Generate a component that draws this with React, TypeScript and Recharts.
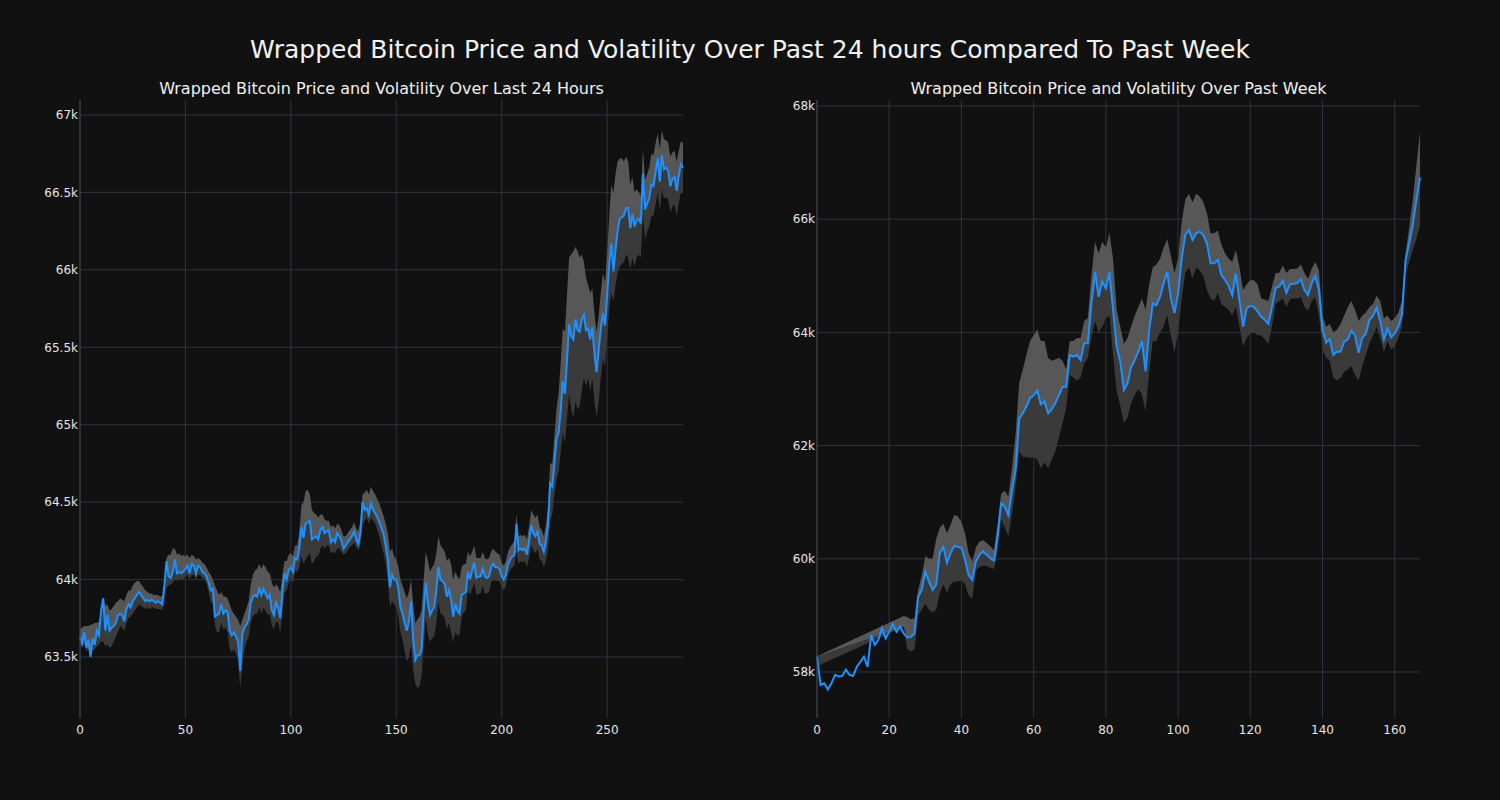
import { Area, CartesianGrid, ComposedChart, Line, XAxis, YAxis } from "recharts";

// prices in thousands of USD
const DAY_PRICE = [
  63.63, 63.59, 63.66, 63.56, 63.61, 63.50, 63.62, 63.58, 63.67, 63.64,
  63.80, 63.88, 63.67, 63.77, 63.67, 63.69, 63.70, 63.72, 63.77, 63.78,
  63.77, 63.73, 63.81, 63.84, 63.82, 63.86, 63.88, 63.90, 63.92, 63.90,
  63.88, 63.86, 63.87, 63.86, 63.87, 63.86, 63.85, 63.86, 63.85, 63.84,
  63.96, 64.12, 64.02, 64.01, 64.05, 64.13, 64.04, 64.05, 64.04, 64.05,
  64.07, 64.09, 64.04, 64.10, 64.09, 64.04, 64.09, 64.08, 64.05, 64.04,
  64.02, 63.98, 63.93, 63.94, 63.76, 63.77, 63.78, 63.84, 63.78, 63.80,
  63.79, 63.67, 63.64, 63.66, 63.63, 63.60, 63.41, 63.65, 63.69, 63.71,
  63.74, 63.85, 63.89, 63.90, 63.89, 63.94, 63.90, 63.94, 63.91, 63.88,
  63.90, 63.80, 63.77, 63.85, 63.82, 63.75, 63.92, 64.04, 64.00, 64.06,
  64.08, 64.05, 64.14, 64.13, 64.20, 64.34, 64.27, 64.36, 64.37, 64.38,
  64.26, 64.27, 64.28, 64.26, 64.32, 64.34, 64.30, 64.31, 64.32, 64.24,
  64.26, 64.24, 64.30, 64.28, 64.25, 64.20, 64.22, 64.24, 64.26, 64.28,
  64.31, 64.26, 64.23, 64.30, 64.50, 64.45, 64.46, 64.42, 64.49, 64.45,
  64.43, 64.40, 64.37, 64.33, 64.29, 64.22, 64.13, 63.95, 64.03, 64.00,
  64.00, 63.94, 63.82, 63.78, 63.72, 63.67, 63.73, 63.86, 63.62, 63.48,
  63.51, 63.51, 63.55, 63.80, 63.98, 63.85, 63.77, 63.80, 63.82, 63.93,
  64.08, 64.00, 63.99, 63.97, 63.89, 63.93, 63.87, 63.76, 63.84, 63.80,
  63.78, 63.90, 63.91, 63.92, 64.05, 64.00, 64.06, 64.11, 64.01, 64.02,
  64.02, 64.07, 64.02, 64.01, 64.02, 64.08, 64.10, 64.08, 64.08, 64.07,
  64.02, 64.00, 64.03, 64.10, 64.13, 64.15, 64.16, 64.36, 64.19, 64.20,
  64.19, 64.20, 64.16, 64.25, 64.35, 64.30, 64.28, 64.31, 64.23, 64.22,
  64.18, 64.25, 64.36, 64.62, 64.60, 64.75, 64.91, 64.95, 65.09, 65.28,
  65.20, 65.42, 65.65, 65.57, 65.55, 65.68, 65.61, 65.60, 65.68, 65.71,
  65.61, 65.62, 65.55, 65.63, 65.46, 65.34, 65.48, 65.62, 65.72, 65.64,
  65.83, 66.04, 66.17, 65.99, 66.13, 66.25, 66.33, 66.34, 66.35, 66.40,
  66.40, 66.27, 66.36, 66.28, 66.32, 66.33, 66.30, 66.62, 66.39, 66.43,
  66.46, 66.55, 66.54, 66.63, 66.72, 66.57, 66.74, 66.65, 66.66, 66.64,
  66.54, 66.59, 66.60, 66.51, 66.61, 66.68, 66.66,
];

const DAY_HIGH = [
  63.68, 63.69, 63.70, 63.70, 63.70, 63.71, 63.71, 63.72, 63.72, 63.73,
  63.80, 63.88, 63.83, 63.84, 63.80, 63.81, 63.83, 63.85, 63.86, 63.88,
  63.87, 63.86, 63.90, 63.93, 63.93, 63.96, 63.98, 63.99, 63.99, 63.97,
  63.95, 63.93, 63.92, 63.91, 63.91, 63.90, 63.90, 63.90, 63.89, 63.89,
  63.98, 64.14, 64.16, 64.16, 64.20, 64.20, 64.16, 64.17, 64.15, 64.16,
  64.15, 64.16, 64.14, 64.16, 64.15, 64.13, 64.14, 64.13, 64.11, 64.10,
  64.08, 64.05, 64.03, 64.00, 63.96, 63.93, 63.90, 63.92, 63.89, 63.89,
  63.88, 63.84, 63.80, 63.78, 63.76, 63.74, 63.70, 63.74, 63.78, 63.82,
  63.86, 63.97, 64.03, 64.06, 64.07, 64.10, 64.07, 64.10, 64.08, 64.05,
  64.04, 63.98, 63.95, 63.97, 63.95, 63.92, 64.03, 64.12, 64.12, 64.16,
  64.17, 64.15, 64.22, 64.22, 64.30, 64.48, 64.50, 64.57, 64.58, 64.55,
  64.45, 64.43, 64.42, 64.40, 64.42, 64.42, 64.39, 64.38, 64.38, 64.34,
  64.35, 64.33, 64.36, 64.35, 64.32, 64.28, 64.28, 64.30, 64.32, 64.34,
  64.37, 64.33, 64.31, 64.38, 64.55, 64.56, 64.58, 64.55, 64.60, 64.57,
  64.55, 64.52, 64.49, 64.45, 64.41, 64.36, 64.30, 64.18, 64.20, 64.15,
  64.13, 64.08, 64.00, 63.96, 63.92, 63.88, 63.92, 64.00, 63.85, 63.72,
  63.74, 63.76, 63.80, 64.00, 64.18, 64.12, 64.05, 64.08, 64.10, 64.17,
  64.28, 64.22, 64.20, 64.18, 64.12, 64.14, 64.10, 64.00, 64.05, 64.02,
  64.00, 64.08, 64.10, 64.10, 64.18, 64.15, 64.18, 64.22, 64.14, 64.14,
  64.14, 64.18, 64.14, 64.13, 64.14, 64.18, 64.20, 64.18, 64.17, 64.16,
  64.11, 64.09, 64.12, 64.18, 64.21, 64.23, 64.25, 64.42, 64.28, 64.29,
  64.28, 64.29, 64.26, 64.34, 64.45, 64.42, 64.40, 64.42, 64.34, 64.32,
  64.28, 64.35, 64.48, 64.75, 64.75, 64.92, 65.10, 65.20, 65.40, 65.62,
  65.60, 65.85, 66.08, 66.10, 66.12, 66.15, 66.12, 66.08, 66.10, 66.05,
  65.95, 65.90, 65.85, 65.88, 65.72, 65.60, 65.70, 65.85, 65.98, 65.92,
  66.10, 66.35, 66.55, 66.50, 66.62, 66.70, 66.72, 66.72, 66.70, 66.73,
  66.70, 66.55, 66.60, 66.50, 66.52, 66.50, 66.48, 66.78, 66.58, 66.62,
  66.66, 66.75, 66.74, 66.82, 66.88, 66.78, 66.90, 66.84, 66.84, 66.82,
  66.73, 66.76, 66.77, 66.70, 66.77, 66.83, 66.82,
];

const DAY_LOW = [
  63.58, 63.56, 63.58, 63.54, 63.55, 63.50, 63.54, 63.55, 63.57, 63.58,
  63.60, 63.60, 63.57, 63.58, 63.56, 63.57, 63.60, 63.63, 63.66, 63.70,
  63.69, 63.67, 63.72, 63.75, 63.76, 63.78, 63.80, 63.82, 63.84, 63.83,
  63.82, 63.81, 63.82, 63.81, 63.82, 63.82, 63.81, 63.81, 63.81, 63.80,
  63.85, 63.95, 63.96, 63.97, 63.98, 64.00, 63.99, 64.00, 64.00, 64.00,
  64.02, 64.03, 64.00, 64.03, 64.03, 64.00, 64.03, 64.03, 64.01, 64.00,
  63.98, 63.92, 63.86, 63.84, 63.70, 63.66, 63.66, 63.72, 63.68, 63.69,
  63.66, 63.55, 63.53, 63.55, 63.52, 63.48, 63.30, 63.45, 63.55, 63.60,
  63.63, 63.72, 63.76, 63.78, 63.78, 63.82, 63.78, 63.82, 63.80, 63.77,
  63.78, 63.70, 63.68, 63.73, 63.72, 63.66, 63.80, 63.92, 63.93, 63.98,
  64.00, 63.98, 64.05, 64.05, 64.08, 64.15, 64.10, 64.13, 64.15, 64.17,
  64.10, 64.12, 64.15, 64.15, 64.20, 64.22, 64.20, 64.22, 64.22, 64.17,
  64.18, 64.17, 64.20, 64.20, 64.18, 64.16, 64.17, 64.19, 64.21, 64.22,
  64.24, 64.21, 64.19, 64.22, 64.35, 64.38, 64.40, 64.36, 64.40, 64.38,
  64.36, 64.32, 64.28, 64.22, 64.17, 64.10, 64.00, 63.82, 63.86, 63.84,
  63.82, 63.76, 63.66, 63.61, 63.54, 63.47, 63.50, 63.58, 63.42, 63.33,
  63.30, 63.31, 63.38, 63.58, 63.75, 63.64, 63.60, 63.62, 63.63, 63.72,
  63.85, 63.78, 63.77, 63.75, 63.68, 63.72, 63.66, 63.60, 63.66, 63.64,
  63.64, 63.76, 63.79, 63.80, 63.93, 63.90, 63.94, 63.98, 63.90, 63.91,
  63.91, 63.96, 63.91, 63.91, 63.92, 63.98, 64.00, 63.99, 63.99, 63.99,
  63.95, 63.93, 63.96, 64.03, 64.06, 64.08, 64.09, 64.18, 64.10, 64.12,
  64.11, 64.12, 64.08, 64.14, 64.22, 64.19, 64.17, 64.20, 64.13, 64.12,
  64.08, 64.12, 64.20, 64.38, 64.42, 64.55, 64.65, 64.70, 64.82, 64.95,
  64.88, 65.05, 65.20, 65.10, 65.05, 65.15, 65.10, 65.12, 65.22, 65.30,
  65.25, 65.30, 65.22, 65.30, 65.15, 65.05, 65.15, 65.30, 65.42, 65.38,
  65.55, 65.75, 65.85, 65.80, 65.90, 65.98, 66.02, 66.04, 66.05, 66.10,
  66.08, 66.00, 66.08, 66.02, 66.08, 66.10, 66.08, 66.35, 66.20, 66.25,
  66.28, 66.35, 66.35, 66.42, 66.50, 66.38, 66.52, 66.46, 66.47, 66.45,
  66.37, 66.41, 66.42, 66.35, 66.43, 66.50, 66.50,
];

const WEEK_PRICE = [
  58.27, 57.77, 57.80, 57.69, 57.80, 57.95, 57.92, 57.93, 58.04, 57.95,
  57.93, 58.09, 58.18, 58.27, 58.09, 58.65, 58.48, 58.57, 58.78, 58.59,
  58.71, 58.85, 58.71, 58.80, 58.68, 58.61, 58.62, 58.68, 59.33, 59.45,
  59.77, 59.60, 59.45, 59.54, 60.10, 60.21, 59.93, 60.10, 60.23, 60.21,
  60.20, 59.98, 59.71, 59.63, 59.95, 60.07, 60.13, 60.07, 60.01, 59.97,
  60.39, 60.98, 60.92, 60.77, 61.22, 61.57, 62.48, 62.57, 62.69, 62.84,
  62.89, 62.97, 62.73, 62.78, 62.57, 62.64, 62.75, 62.89, 63.04, 63.04,
  63.60, 63.57, 63.60, 63.51, 63.81, 63.81, 64.51, 65.07, 64.63, 64.90,
  64.78, 65.06, 64.40, 63.75, 63.48, 62.98, 63.10, 63.39, 63.51, 63.66,
  63.84, 63.31, 64.04, 64.51, 64.48, 64.63, 64.87, 65.07, 64.60, 64.34,
  64.69, 65.31, 65.72, 65.81, 65.63, 65.75, 65.78, 65.72, 65.57, 65.22,
  65.22, 65.28, 65.01, 64.93, 64.82, 64.66, 65.04, 64.57, 64.10, 64.43,
  64.47, 64.45, 64.37, 64.28, 64.22, 64.15, 64.45, 64.78, 64.81, 64.91,
  64.70, 64.85, 64.86, 64.87, 64.94, 64.75, 64.66, 64.87, 65.00, 64.75,
  64.04, 63.82, 63.88, 63.60, 63.66, 63.66, 63.84, 63.87, 64.03, 63.95,
  63.64, 63.90, 63.98, 64.22, 64.29, 64.44, 64.19, 63.87, 64.07, 63.91,
  63.98, 64.10, 64.31, 65.28, 65.57, 65.90, 66.34, 66.74,
];

const WEEK_HIGH = [
  58.28, null, null, null, null, null, null, null, null, null,
  null, null, null, null, null, null, null, null, null, null,
  null, null, null, null, 58.99, 58.97, 58.93, 58.95, 59.45, 59.70,
  60.05, 60.00, 60.00, 60.35, 60.55, 60.62, 60.45, 60.60, 60.78, 60.75,
  60.65, 60.45, 60.10, 59.95, 60.20, 60.30, 60.33, 60.28, 60.22, 60.15,
  60.60, 61.15, 61.20, 61.10, 61.60, 62.20, 63.10, 63.35, 63.60, 63.85,
  63.95, 64.05, 63.85, 63.85, 63.55, 63.50, 63.52, 63.55, 63.50, 63.35,
  63.85, 63.85, 63.90, 63.90, 64.20, 64.25, 65.00, 65.60, 65.40, 65.60,
  65.50, 65.75, 65.30, 64.40, 64.10, 63.80, 63.90, 64.10, 64.30, 64.45,
  64.60, 64.40, 64.85, 65.15, 65.20, 65.30, 65.50, 65.65, 65.35, 65.05,
  65.30, 65.95, 66.35, 66.45, 66.30, 66.45, 66.40, 66.30, 66.10, 65.75,
  65.75, 65.80, 65.55, 65.40, 65.30, 65.25, 65.45, 65.15, 64.75, 64.85,
  64.92, 64.92, 64.85, 64.60, 64.58, 64.55, 64.80, 65.05, 65.05, 65.18,
  65.05, 65.12, 65.12, 65.13, 65.20, 65.05, 64.95, 65.12, 65.25, 65.10,
  64.30, 64.10, 64.15, 64.00, 64.05, 64.15, 64.30, 64.45, 64.55, 64.40,
  64.20, 64.30, 64.35, 64.45, 64.50, 64.65, 64.55, 64.25, 64.30, 64.20,
  64.25, 64.35, 64.55, 65.40, 65.85, 66.35, 66.95, 67.55,
];

const WEEK_LOW = [
  58.10, null, null, null, null, null, null, null, null, null,
  null, null, null, null, null, null, null, null, null, null,
  null, null, null, null, 58.80, 58.40, 58.36, 58.40, 59.00, 59.10,
  59.20, 59.10, 59.05, 59.10, 59.40, 59.55, 59.40, 59.55, 59.60, 59.60,
  59.62, 59.55, 59.35, 59.30, 59.80, 59.85, 59.88, 59.87, 59.84, 59.82,
  60.10, 60.70, 60.55, 60.40, 60.80, 61.30, 61.90, 61.80, 61.80, 61.78,
  61.80, 61.75, 61.60, 61.70, 61.60, 61.75, 61.90, 62.15, 62.40, 62.65,
  63.25, 63.20, 63.15, 63.20, 63.45, 63.55, 63.90, 64.20, 64.00, 64.10,
  64.25, 64.30, 63.60, 62.95, 62.70, 62.40, 62.50, 62.75, 62.90, 63.00,
  62.90, 62.60, 63.30, 63.85, 63.85, 64.00, 64.10, 64.30, 63.95, 63.65,
  64.00, 64.60, 65.05, 65.15, 64.95, 65.15, 65.10, 65.00, 64.75, 64.60,
  64.55, 64.70, 64.50, 64.45, 64.40, 64.30, 64.45, 64.10, 63.75, 63.90,
  63.98, 64.00, 63.95, 63.95, 63.88, 63.80, 64.10, 64.50, 64.55, 64.60,
  64.45, 64.58, 64.60, 64.60, 64.62, 64.45, 64.38, 64.55, 64.62, 64.30,
  63.70, 63.55, 63.50, 63.20, 63.15, 63.20, 63.30, 63.35, 63.40, 63.25,
  63.15, 63.40, 63.60, 63.80, 63.95, 64.10, 63.90, 63.65, 63.85, 63.70,
  63.75, 63.90, 64.10, 65.00, 65.25, 65.45, 65.65, 65.90,
];

const DAY_X_TICKS = [0, 50, 100, 150, 200, 250];
const DAY_Y_TICKS = [63.5, 64, 64.5, 65, 65.5, 66, 66.5, 67];
const WEEK_X_TICKS = [0, 20, 40, 60, 80, 100, 120, 140, 160];
const WEEK_Y_TICKS = [58, 60, 62, 64, 66, 68];

const FONT = '"DejaVu Sans", sans-serif';
const GRID = "#2b3440";

function buildRows(price: number[], high: (number | null)[], low: (number | null)[]) {
  return price.map((p, i) => {
    const hi = high[i];
    const lo = low[i];
    if (hi == null || lo == null) {
      return { t: i, price: p, upper: [null, null], lower: [null, null] };
    }
    const mid = Math.min(hi, Math.max(lo, p));
    return { t: i, price: p, upper: [mid, hi], lower: [lo, mid] };
  });
}

interface PanelProps {
  left: number;
  title: string;
  rows: any[];
  xMax: number;
  xTicks: number[];
  yDomain: [number, number];
  yTicks: number[];
}

function Panel({ left, title, rows, xMax, xTicks, yDomain, yTicks }: PanelProps) {
  const tick = { fill: "#e6e6e6", fontSize: 12, fontFamily: FONT };
  return (
    <div style={{ position: "absolute", left, top: 0, width: 700, height: 760 }}>
      <div
        style={{
          position: "absolute",
          left: 80,
          width: 603,
          top: 79,
          lineHeight: "20px",
          fontSize: 16,
          textAlign: "center",
          color: "#f0f0f0",
        }}
      >
        {title}
      </div>
      <ComposedChart width={700} height={760} data={rows} margin={{ top: 100, right: 17, bottom: 12, left: 0 }}>
        <CartesianGrid stroke={GRID} strokeWidth={1} horizontalValues={yTicks} verticalValues={xTicks} />
        <XAxis
          dataKey="t"
          type="number"
          domain={[0, xMax]}
          ticks={xTicks}
          axisLine={false}
          tickLine={false}
          tickSize={0}
          tickMargin={7}
          height={30}
          tick={tick}
        />
        <YAxis
          type="number"
          domain={yDomain}
          ticks={yTicks}
          allowDataOverflow
          width={80}
          axisLine={{ stroke: "#3a4654" }}
          tickLine={false}
          tickSize={0}
          tickMargin={2}
          tick={tick}
          tickFormatter={(v: number) => `${v}k`}
        />
        <Area
          type="linear"
          dataKey="lower"
          stroke="none"
          fill="#3a3a3a"
          fillOpacity={1}
          connectNulls
          isAnimationActive={false}
        />
        <Area
          type="linear"
          dataKey="upper"
          stroke="none"
          fill="#575757"
          fillOpacity={1}
          connectNulls
          isAnimationActive={false}
        />
        <Line
          type="linear"
          dataKey="price"
          stroke="#1e90ff"
          strokeWidth={2}
          dot={false}
          isAnimationActive={false}
        />
      </ComposedChart>
    </div>
  );
}

export default function App() {
  const dayRows = buildRows(DAY_PRICE, DAY_HIGH, DAY_LOW);
  const weekRows = buildRows(WEEK_PRICE, WEEK_HIGH, WEEK_LOW);
  return (
    <div
      style={{
        position: "fixed",
        left: 0,
        top: 0,
        width: 1500,
        height: 800,
        background: "#111111",
        fontFamily: FONT,
        overflow: "hidden",
      }}
    >
      <div
        style={{
          position: "absolute",
          top: 35,
          left: 0,
          width: 1500,
          textAlign: "center",
          fontSize: 25,
          lineHeight: "30px",
          color: "#f2f2f2",
        }}
      >
        Wrapped Bitcoin Price and Volatility Over Past 24 hours Compared To Past Week
      </div>
      <Panel
        left={0}
        title="Wrapped Bitcoin Price and Volatility Over Last 24 Hours"
        rows={dayRows}
        xMax={286}
        xTicks={DAY_X_TICKS}
        yDomain={[63.106, 67.097]}
        yTicks={DAY_Y_TICKS}
      />
      <Panel
        left={737}
        title="Wrapped Bitcoin Price and Volatility Over Past Week"
        rows={weekRows}
        xMax={167}
        xTicks={WEEK_X_TICKS}
        yDomain={[57.187, 68.106]}
        yTicks={WEEK_Y_TICKS}
      />
    </div>
  );
}
